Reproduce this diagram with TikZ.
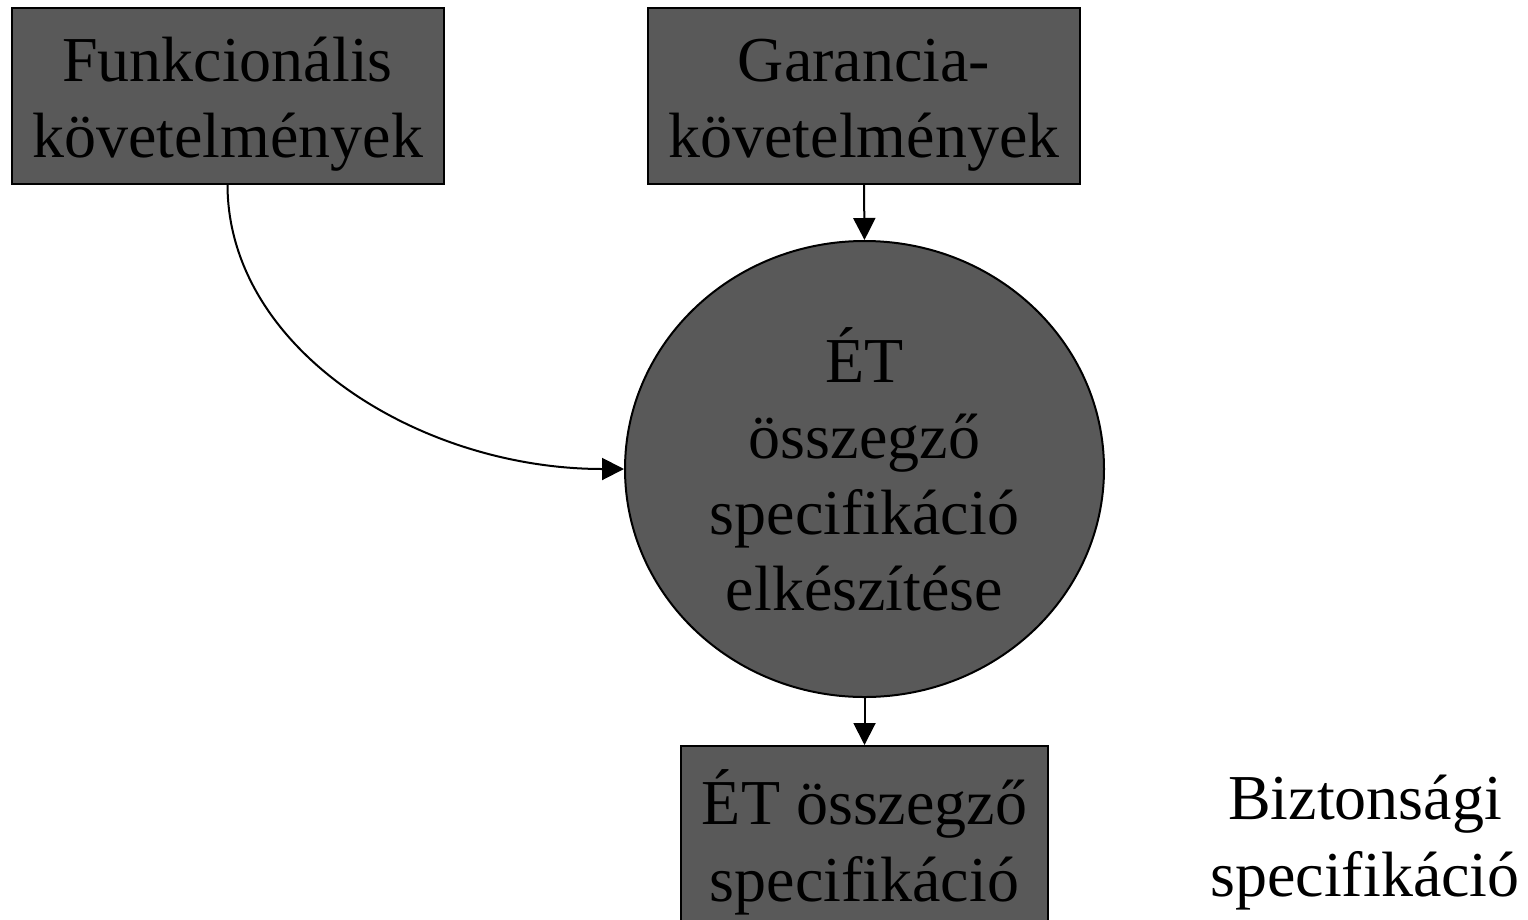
\documentclass[tikz,border=0pt]{standalone}
\usepackage{fontspec}
\setmainfont{Liberation Serif}
\usetikzlibrary{arrows.meta,shapes.geometric}
\definecolor{boxgray}{HTML}{595959}
% every label starts with a 50pt strut, so a north-anchored node puts
% its first baseline 50pt below the anchor point
\newcommand{\firstline}{\rule{0pt}{50pt}}
\begin{document}
\begin{tikzpicture}[x=1pt,y=-1pt,
  txt/.style={font=\fontsize{64pt}{76pt}\selectfont, align=center,
              inner sep=0pt, anchor=north},
  txtwide/.style={txt, font=\fontsize{64pt}{77pt}\selectfont},
  shape box/.style={draw=black, line width=2pt, fill=boxgray, inner sep=0pt},
  conn/.style={line width=2pt, -{Triangle[length=22pt,width=22pt]}}]
  \useasboundingbox (0,0) rectangle (1528,919);
  \clip (0,0) rectangle (1528,919);

  % shapes
  \node[shape box, minimum width=432pt, minimum height=176pt] (func) at (227.5,96) {};
  \node[shape box, minimum width=432pt, minimum height=176pt] (gar) at (864,96) {};
  \node[shape box, ellipse, minimum width=479pt, minimum height=456pt] (proc) at (864.5,469) {};
  \node[shape box, minimum width=367pt, minimum height=182pt] (out) at (864.5,837) {};

  % labels (first baselines at 81, 377, 819)
  \node[txt] (funcT) at (227.5,31) {\firstline Funkcionális\\követelmények};
  \node[txt] (garT) at (864,31) {\firstline Garancia-\\követelmények};
  \node[txt] (procT) at (864.5,327) {\firstline ÉT\\összegző\\specifikáció\\elkészítése};
  \node[txtwide] (outT) at (864.5,769) {\firstline ÉT összegző\\specifikáció};
  \node[txtwide] (bizt) at (1365,769) {\firstline Biztonsági\\specifikáció};

  % connectors
  \draw[conn] (gar.south) -- (proc.north);
  \draw[conn] (proc.south) -- (out.north);
  \draw[conn] (func.south) .. controls (228,350) and (420,469) .. (proc.west);
\end{tikzpicture}
\end{document}
